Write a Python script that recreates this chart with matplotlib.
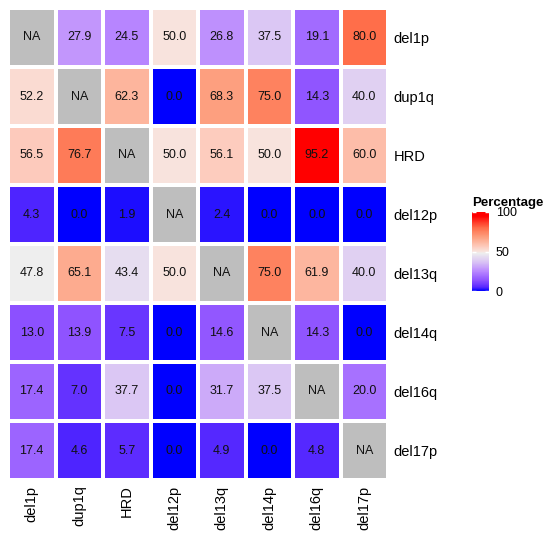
import matplotlib
matplotlib.use("Agg")
import matplotlib.pyplot as plt
import numpy as np
from matplotlib.colors import LinearSegmentedColormap

plt.rcParams['font.family'] = ['Liberation Sans', 'DejaVu Sans']

# row / column names of the heatmap
row_labels = ["del1p", "dup1q", "HRD", "del12p", "del13q", "del14q", "del16q", "del17p"]
col_labels = ["del1p", "dup1q", "HRD", "del12p", "del13q", "del14p", "del16q", "del17p"]

nan = np.nan
# percentages, one list per row (NA on the diagonal)
r_del1p = [nan, 27.9, 24.5, 50.0, 26.8, 37.5, 19.1, 80.0]
r_dup1q = [52.2, nan, 62.3, 0.0, 68.3, 75.0, 14.3, 40.0]
r_hrd = [56.5, 76.7, nan, 50.0, 56.1, 50.0, 95.2, 60.0]
r_del12p = [4.3, 0.0, 1.9, nan, 2.4, 0.0, 0.0, 0.0]
r_del13q = [47.8, 65.1, 43.4, 50.0, nan, 75.0, 61.9, 40.0]
r_del14q = [13.0, 13.9, 7.5, 0.0, 14.6, nan, 14.3, 0.0]
r_del16q = [17.4, 7.0, 37.7, 0.0, 31.7, 37.5, nan, 20.0]
r_del17p = [17.4, 4.6, 5.7, 0.0, 4.9, 0.0, 4.8, nan]

data = np.array([r_del1p, r_dup1q, r_hrd, r_del12p, r_del13q, r_del14q, r_del16q, r_del17p])

# blue - white - red ramp (roughly what colorRamp2 gives in LAB space)
cmap = LinearSegmentedColormap.from_list("bwr_lab", [
    (0.0, "#0000FF"), (0.05, "#5A2AFF"), (0.13, "#8C50FF"), (0.25, "#BA88FF"),
    (0.37, "#DAC4F4"), (0.478, "#EEEEEE"), (0.50, "#F8E4DE"), (0.56, "#FDCCBE"),
    (0.68, "#FDA080"), (0.80, "#FF6E4A"), (0.95, "#FF0000"), (1.0, "#FF0000")])
cmap.set_bad("#BEBEBE")

fig = plt.figure(figsize=(5.5, 5.39), dpi=100)
ax = fig.add_axes([8/550, 1 - 480/539, 380/550, 472/539])

masked = np.ma.masked_invalid(data)
mesh = ax.pcolormesh(masked, cmap=cmap, vmin=0, vmax=100, edgecolors="white", linewidth=1.5)
ax.set_xlim(0, 8)
ax.set_ylim(8, 0)

for i in range(8):
    for j in range(8):
        v = data[i, j]
        txt = "NA" if np.isnan(v) else "%.1f" % v
        ax.text(j + 0.5, i + 0.5, txt, ha="center", va="center", fontsize=9, color="#111111")

for s in ax.spines.values():
    s.set_visible(False)
ax.set_xticks(np.arange(8) + 0.5)
ax.set_xticklabels(col_labels, rotation=90, fontsize=10.5)
ax.set_yticks(np.arange(8) + 0.5)
ax.set_yticklabels(row_labels, fontsize=10.5)
ax.yaxis.tick_right()
ax.tick_params(length=0, pad=4)

# legend
cax = fig.add_axes([472/550, 1 - 291/539, 17/550, 79/539])
cb = fig.colorbar(mesh, cax=cax, ticks=[0, 50, 100])
cb.outline.set_visible(False)
cax.tick_params(direction="in", color="white", length=3, width=1, labelsize=9, pad=5,
                left=True, right=True)
fig.text(472/550, 1 - 203/539, "Percentage", fontsize=9.5, fontweight="bold", va="center", ha="left")

fig.savefig("out.png", dpi=100)
